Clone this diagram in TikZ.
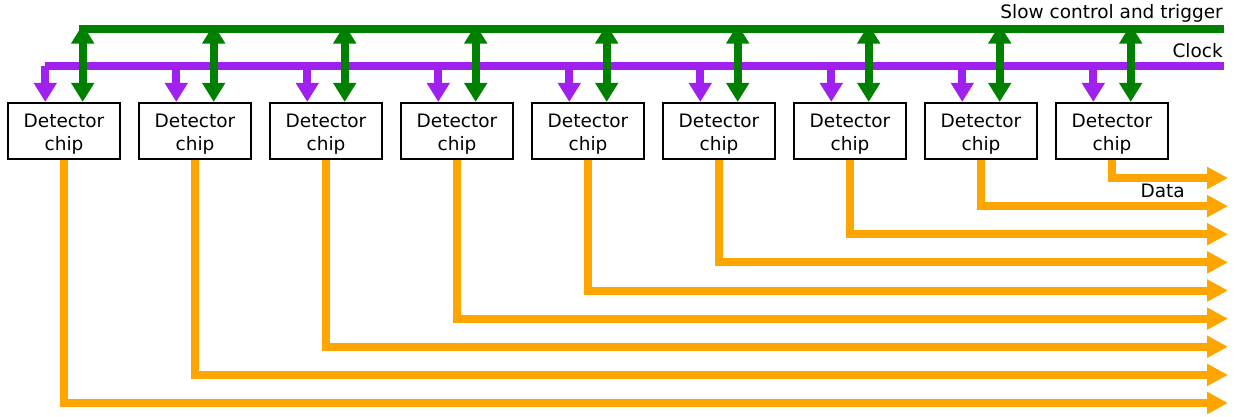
\documentclass[tikz,border=0pt]{standalone}
\usepackage{fontspec}
\setmainfont{DejaVu Sans}
\usetikzlibrary{arrows.meta}
\definecolor{busgreen}{RGB}{0,128,0}
\definecolor{clkpurple}{RGB}{160,32,240}
\definecolor{dataorange}{RGB}{255,165,0}
\begin{document}
\begin{tikzpicture}[x=1pt,y=-1pt,
  chipbox/.style={draw=black,line width=2.2pt,minimum width=112pt,minimum height=56pt,inner sep=0pt,align=center,font=\fontsize{18.5}{23}\selectfont},
  lbl/.style={inner sep=0pt,font=\fontsize{18.5}{23}\selectfont},
  gbus/.style={busgreen,line width=8pt},
  garrow/.style={busgreen,line width=8pt,{Triangle[length=19pt,width=22pt]}-{Triangle[length=19pt,width=22pt]}},
  pbus/.style={clkpurple,line width=8pt,line join=miter},
  parrow/.style={clkpurple,line width=8pt,-{Triangle[length=19pt,width=22pt]}},
  darrow/.style={dataorange,line width=8pt,line join=miter,-{Triangle[length=21pt,width=21pt]}}]
\useasboundingbox (0,0) rectangle (1236,416);
% chips
\foreach \i in {0,...,8}{
  \node[chipbox] (c\i) at ({64+131*\i},131) {\rule{0pt}{19pt}Detector\\chip};
}
% green bus
\coordinate (gL) at (78.7,28.5);
\coordinate (gR) at (1224,28.5);
\draw[gbus] (gL) -- (gR);
% purple bus
\coordinate (pR) at (1224,66);
\coordinate (pL) at (45.3,66);
\draw[pbus] (pR) -- (pL);
\foreach \i in {0,...,8}{
  \coordinate (g\i) at ({82.7+131*\i},24.5);
  \coordinate (p\i) at ({45.3+131*\i},66);
  \draw[garrow] (g\i) -- (g\i |- c\i.north);
  \draw[parrow] (p\i) -- (p\i |- c\i.north);
  \coordinate (d\i) at (1228,{403-28.125*\i});
  \draw[darrow] (c\i.south) |- (d\i);
}
% labels
\node[lbl,anchor=base east] (lslow) at (1223,18.5) {Slow control and trigger};
\node[lbl,anchor=base east] (lclock) at (1223,57) {Clock};
\node[lbl,anchor=base east] (ldata) at (1185,197) {Data};
\end{tikzpicture}
\end{document}
